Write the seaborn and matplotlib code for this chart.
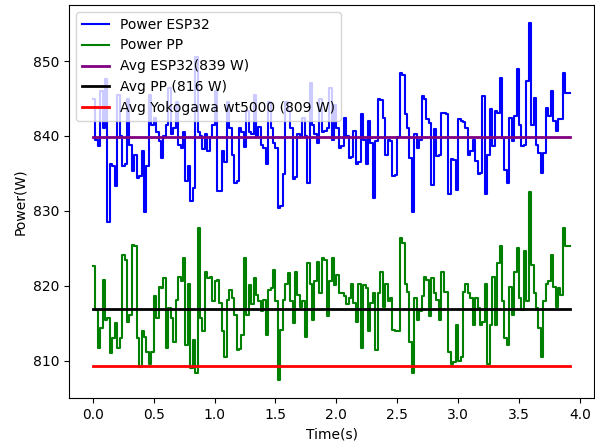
import numpy as np
import pandas as pd
import matplotlib
matplotlib.use("Agg")
import matplotlib.pyplot as plt
import seaborn as sns

# Sampling period of the power readings (s)
dt = 0.02

power_esp32 = [
    845.0, 839.5, 838.6, 846.0, 841.0, 847.6, 828.5, 836.3, 836.0, 833.3,
    845.5, 840.0, 836.0, 836.2, 845.0, 838.8, 835.3, 837.5, 834.4, 834.6,
    838.0, 829.9, 836.0, 845.5, 841.4, 842.4, 840.5, 839.3, 837.1, 840.0,
    841.5, 846.4, 840.2, 841.0, 844.6, 838.8, 838.4, 840.5, 834.0, 836.0,
    831.3, 833.0, 850.6, 840.5, 840.0, 838.2, 840.3, 838.0, 839.8, 841.5,
    846.0, 832.6, 832.6, 838.0, 836.5, 844.6, 841.0, 837.5, 833.7, 834.0,
    841.1, 840.5, 838.5, 843.3, 840.5, 840.2, 845.5, 839.8, 841.2, 838.8,
    838.4, 836.2, 844.6, 841.0, 839.0, 838.4, 830.4, 830.6, 834.9, 844.6,
    843.3, 841.0, 834.2, 834.5, 840.2, 839.8, 842.4, 840.0, 833.7, 847.1,
    841.5, 840.2, 839.0, 845.0, 840.5, 840.6, 841.1, 846.4, 839.5, 844.2,
    841.0, 838.4, 838.6, 842.4, 840.0, 837.0, 837.2, 840.6, 836.2, 836.5,
    842.9, 839.5, 836.2, 842.0, 839.0, 831.7, 839.3, 845.0, 844.8, 842.4,
    837.5, 839.5, 839.3, 834.6, 834.8, 839.8, 848.4, 848.2, 842.9, 841.1,
    837.0, 829.9, 840.2, 838.4, 839.5, 845.3, 845.0, 842.2, 841.7, 833.5,
    840.9, 837.3, 837.5, 843.1, 843.0, 842.9, 832.2, 836.9, 836.8, 832.8,
    842.2, 842.0, 841.8, 841.1, 837.5, 838.0, 839.5, 836.6, 834.9, 835.0,
    845.3, 832.2, 837.5, 843.6, 838.6, 843.3, 843.0, 847.8, 839.7, 835.5,
    833.7, 842.4, 839.3, 842.6, 848.9, 841.5, 838.6, 838.8, 847.3, 855.1,
    841.5, 845.1, 838.8, 837.7, 835.1, 837.7, 843.8, 842.6, 846.0, 842.0,
    840.6, 842.2, 842.2, 848.4, 845.7, 845.7, 845.7,
]

power_pp = [
    822.7, 816.8, 811.7, 814.3, 820.8, 815.4, 815.7, 811.0, 813.0, 815.0,
    811.7, 813.0, 824.1, 823.5, 815.2, 816.1, 825.5, 825.3, 813.0, 809.2,
    813.9, 813.2, 811.2, 809.6, 811.2, 818.6, 815.7, 819.9, 819.7, 821.0,
    811.7, 817.0, 815.7, 812.5, 818.1, 821.2, 820.6, 823.7, 812.1, 820.3,
    809.0, 812.8, 808.3, 827.7, 815.7, 813.9, 821.9, 821.0, 821.2, 818.0,
    820.6, 820.8, 817.7, 813.9, 810.5, 818.1, 819.5, 818.3, 816.1, 811.4,
    811.6, 813.4, 823.7, 816.1, 820.1, 817.5, 821.0, 818.8, 817.9, 816.6,
    818.1, 813.4, 819.5, 819.7, 822.1, 817.9, 807.4, 814.1, 818.1, 820.3,
    821.7, 817.9, 815.0, 821.9, 818.8, 817.2, 817.9, 813.2, 823.0, 820.3,
    815.4, 820.6, 823.2, 819.0, 823.7, 823.5, 815.9, 820.6, 823.7, 820.1,
    821.5, 819.0, 819.0, 818.6, 817.5, 818.3, 820.3, 817.7, 815.2, 820.3,
    811.7, 820.1, 819.7, 813.9, 817.7, 819.0, 811.4, 819.0, 821.9, 817.2,
    820.3, 817.9, 818.3, 814.1, 813.9, 814.0, 826.4, 825.7, 820.3, 819.2,
    812.5, 808.3, 818.3, 815.4, 816.6, 818.6, 821.2, 820.8, 815.9, 821.0,
    819.0, 818.1, 815.4, 821.9, 819.2, 819.2, 811.2, 809.6, 809.8, 814.8,
    809.9, 810.5, 819.2, 820.3, 819.0, 818.3, 814.8, 818.3, 817.0, 814.8,
    815.2, 820.3, 809.6, 814.8, 821.2, 814.8, 823.0, 825.3, 817.9, 813.0,
    812.1, 819.9, 816.1, 821.9, 825.0, 818.3, 816.8, 824.6, 817.9, 832.5,
    822.8, 819.0, 817.0, 814.3, 810.5, 817.9, 820.3, 820.6, 824.1, 819.9,
    817.2, 819.7, 818.8, 827.7, 825.3, 825.3, 825.3,
]

# Mean power levels (W)
avg_esp32 = 839.9
avg_pp = 816.9
avg_yokogawa = 809.35

time_s = np.arange(len(power_esp32)) * dt

df = pd.DataFrame({
    "time": time_s,
    "esp32": power_esp32,
    "pp": power_pp,
    "avg_esp32": [avg_esp32] * len(time_s),
    "avg_pp": [avg_pp] * len(time_s),
    "avg_yoko": [avg_yokogawa] * len(time_s),
})

fig = plt.figure(figsize=(5.95, 4.43), dpi=100)
ax = fig.add_axes([69 / 595, 45 / 443, 525 / 595, 393 / 443])

sns.lineplot(data=df, x="time", y="esp32", ax=ax, color="blue",
             drawstyle="steps-post", estimator=None, label="Power ESP32",
             linewidth=1.5)
sns.lineplot(data=df, x="time", y="pp", ax=ax, color="green",
             drawstyle="steps-post", estimator=None, label="Power PP",
             linewidth=1.5)
sns.lineplot(data=df, x="time", y="avg_esp32", ax=ax, color="purple",
             estimator=None, linewidth=2,
             label=f"Avg ESP32({int(avg_esp32)} W)")
sns.lineplot(data=df, x="time", y="avg_pp", ax=ax, color="black",
             estimator=None, linewidth=2,
             label=f"Avg PP ({int(avg_pp)} W)")
sns.lineplot(data=df, x="time", y="avg_yoko", ax=ax, color="red",
             estimator=None, linewidth=2,
             label=f"Avg Yokogawa wt5000 ({int(avg_yokogawa)} W)")

ax.set_xlabel("Time(s)")
ax.set_ylabel("Power(W)")
ax.set_xticks(np.arange(0, 4.01, 0.5))
ax.legend(loc="upper left")

fig.savefig("out.png", dpi=100)
